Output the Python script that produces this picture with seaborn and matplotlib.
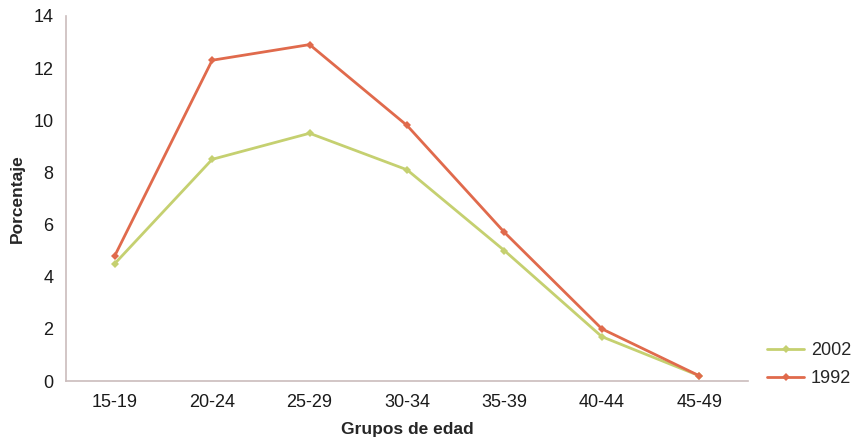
import matplotlib
matplotlib.use("Agg")
import matplotlib.pyplot as plt
import seaborn as sns
import pandas as pd

categories = ["15-19", "20-24", "25-29", "30-34", "35-39", "40-44", "45-49"]
values_2002 = [4.5, 8.5, 9.5, 8.1, 5.0, 1.7, 0.2]
values_1992 = [4.8, 12.3, 12.9, 9.8, 5.7, 2.0, 0.2]
series_names = ["2002", "1992"]
y_ticks = [0, 2, 4, 6, 8, 10, 12, 14]

sns.set_style("white")
plt.rcParams["font.family"] = ["Liberation Sans", "DejaVu Sans"]

df = pd.DataFrame({
    "Grupos de edad": categories * 2,
    "Porcentaje": values_2002 + values_1992,
    "Serie": [series_names[0]] * len(categories) + [series_names[1]] * len(categories),
})

fig = plt.figure(figsize=(8.53, 4.42), dpi=100)
ax = fig.add_axes([0.0774, 0.138, 0.7995, 0.826])

palette = {"2002": "#C5D070", "1992": "#E06A4C"}
sns.lineplot(data=df, x="Grupos de edad", y="Porcentaje", hue="Serie",
             palette=palette, marker="D", markersize=4.5, markeredgewidth=0,
             linewidth=2, ax=ax, sort=False)

ax.set_xlim(-0.5, len(categories) - 0.5)
ax.set_ylim(0, 14)
ax.set_yticks(y_ticks)
ax.set_yticklabels([str(t) for t in y_ticks])
ax.set_xticks(range(len(categories)))
ax.set_xticklabels(categories)
ax.tick_params(axis="both", labelsize=13, colors="#1a1a1a", length=0)
ax.tick_params(axis="y", pad=9)
ax.tick_params(axis="x", pad=9)
# minor ticks at category boundaries
ax.set_xticks([i - 0.5 for i in range(len(categories) + 1)], minor=True)
ax.set_yticks(y_ticks, minor=True)
ax.tick_params(which="minor", length=4, color="#d0c4c4", width=1)

for s in ["top", "right"]:
    ax.spines[s].set_visible(False)
for s in ["left", "bottom"]:
    ax.spines[s].set_color("#cbbcbc")
    ax.spines[s].set_linewidth(1.2)

ax.set_xlabel("Grupos de edad", fontsize=12.5, fontweight="bold", labelpad=8)
ax.set_ylabel("Porcentaje", fontsize=12.5, fontweight="bold", labelpad=6)

leg = ax.legend(title=None, loc="center left", bbox_to_anchor=(1.01, 0.045),
                frameon=False, fontsize=13, handlelength=2.0,
                handletextpad=0.4, labelspacing=0.6, borderaxespad=0.3)

fig.savefig("out.png", dpi=100)
